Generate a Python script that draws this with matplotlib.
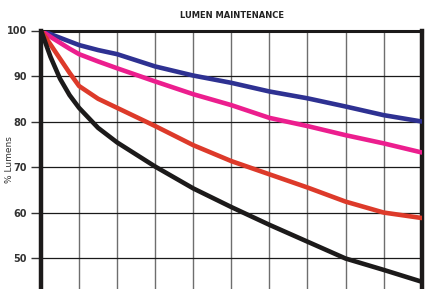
import matplotlib
matplotlib.use("Agg")
import matplotlib.pyplot as plt
from matplotlib import font_manager

hours = [0, 0.25, 0.5, 0.75, 1, 1.5, 2, 3, 4, 5, 6, 7, 8, 9, 10]
blue = [100, 99.2, 98.4, 97.6, 96.8, 95.7, 94.8, 92.1, 90.1, 88.5, 86.6, 85.1, 83.3, 81.4, 80.0]
pink = [100, 98.6, 97.3, 96.0, 94.8, 93.2, 91.7, 88.8, 86.0, 83.6, 80.8, 79.0, 77.0, 75.2, 73.2]
red = [100, 96.9, 93.8, 90.7, 87.8, 85.0, 83.0, 79.0, 74.8, 71.3, 68.4, 65.5, 62.4, 60.0, 58.8]
black = [100, 94.2, 89.4, 85.8, 83.0, 78.6, 75.4, 70.1, 65.3, 61.2, 57.3, 53.6, 49.9, 47.4, 44.8]
yticks = [50, 60, 70, 80, 90, 100]

names = [f.name for f in font_manager.fontManager.ttflist]
fam = "Liberation Sans Narrow" if "Liberation Sans Narrow" in names else "DejaVu Sans"
plt.rcParams['font.family'] = [fam, 'DejaVu Sans']

fig = plt.figure(figsize=(4.28, 2.89), dpi=100)
ax = fig.add_axes([41/428, 0, (421.7-41)/428, 1 - 30.5/289])

for ys, c in [(blue, '#2e3192'), (pink, '#ec1e8e'), (red, '#dd3a2a'), (black, '#1c1a1a')]:
    ax.plot(hours, ys, color=c, lw=3.3, solid_joinstyle='round', solid_capstyle='round', zorder=3)

ax.set_xlim(0, 10)
ax.set_ylim(43.2, 100)
ax.set_xticks(range(11))
ax.set_yticks(yticks)
ax.set_xticklabels([])
ax.set_yticklabels([str(v) for v in yticks], fontsize=7, fontweight='bold', color='#333333')
ax.tick_params(axis='y', length=7, width=1, color='#333333', pad=3)
ax.tick_params(axis='x', length=0)

ax.grid(axis='y', color='#1a1a1a', lw=0.9, zorder=1)
ax.grid(axis='x', color='#6e6e6e', lw=1.0, zorder=1)

ax.spines['left'].set_linewidth(3.2)
ax.spines['right'].set_linewidth(3.2)
ax.spines['top'].set_linewidth(2.2)
ax.spines['bottom'].set_visible(False)
for s in ['left', 'right', 'top']:
    ax.spines[s].set_color('#1c1a1a')

fig.text(231.5/428, 1 - 16/289, "LUMEN MAINTENANCE", ha='center', va='center',
         fontsize=6, fontweight='bold', color='#222222')
fig.text(10/428, 1 - 160/289, "% Lumens", ha='center', va='center', rotation=90,
         fontsize=6.5, color='#333333')

fig.savefig("out.png", dpi=100)
